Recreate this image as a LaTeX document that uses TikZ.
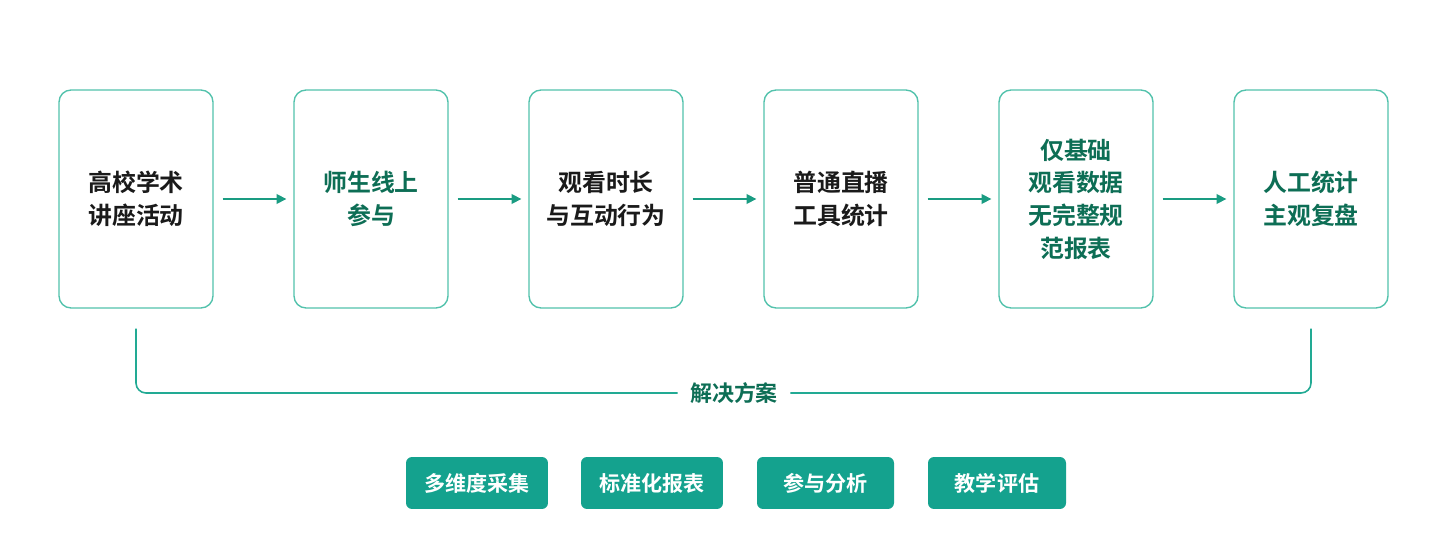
\documentclass[tikz,border=0pt]{standalone}
\usepackage{fontspec}
\setmainfont{Noto Sans CJK SC}[BoldFont={Noto Sans CJK SC Bold}]
\usetikzlibrary{calc,arrows.meta}

\definecolor{borde}{HTML}{52C2AC}
\definecolor{flecha}{HTML}{1A9C82}
\definecolor{linea}{HTML}{22AA94}
\definecolor{verde}{HTML}{0D6E55}
\definecolor{boton}{HTML}{14A28E}
\definecolor{negro}{HTML}{1A1A1A}

\begin{document}
\begin{tikzpicture}[x=0.02cm,y=-0.02cm]
  % Definimos los estilos
  \tikzstyle{paso} = [draw=borde, line width=0.8pt, fill=white, rounded corners=0.24cm, minimum width=3.08cm, minimum height=4.36cm, align=center, text=negro, font={\fontsize{13.6pt}{18.6pt}\selectfont\bfseries}];
  \tikzstyle{pasoverde} = [paso, text=verde];
  \tikzstyle{flujo} = [draw=flecha, line width=0.9pt, -{Triangle[length=5.5pt,width=5.5pt]}, shorten <=0.18cm, shorten >=0.14cm];
  \tikzstyle{corchete} = [draw=linea, line width=0.9pt, rounded corners=0.2cm];
  \tikzstyle{boton} = [fill=boton, rounded corners=0.12cm, minimum height=1.04cm, text=white, font={\fontsize{12pt}{14pt}\selectfont\bfseries}];

  \useasboundingbox (0,0) rectangle (1446,560);

  % Los seis pasos del proceso
  \node [paso] (b1) at (136,199) {高校学术\\讲座活动};
  \node [pasoverde] (b2) at (371,199) {师生线上\\参与};
  \node [paso] (b3) at (606,199) {观看时长\\与互动行为};
  \node [paso] (b4) at (841,199) {普通直播\\工具统计};
  \node [pasoverde] (b5) at (1076,199) {仅基础\\观看数据\\无完整规\\范报表};
  \node [pasoverde] (b6) at (1311,199) {人工统计\\主观复盘};

  % Flechas entre pasos
  \foreach \a/\b in {b1/b2,b2/b3,b3/b4,b4/b5,b5/b6}
    \draw [flujo] (\a.east) -- (\b.west);

  % Corchete con la etiqueta
  \node [text=verde, font={\fontsize{12.5pt}{14pt}\selectfont\bfseries}, inner xsep=0.24cm] (sol) at (734,393) {解决方案};
  \coordinate (lt) at ($(b1.south)+(0,20)$);
  \coordinate (rt) at ($(b6.south)+(0,20)$);
  \draw [corchete] (lt) |- (sol.west);
  \draw [corchete] (rt) |- (sol.east);

  % Botones de la solucion
  \node [boton, minimum width=2.84cm] (c1) at (477,483) {多维度采集};
  \node [boton, minimum width=2.84cm] (c2) at (652,483) {标准化报表};
  \node [boton, minimum width=2.74cm] (c3) at (825.5,483) {参与分析};
  \node [boton, minimum width=2.76cm] (c4) at (997,483) {教学评估};
\end{tikzpicture}
\end{document}
